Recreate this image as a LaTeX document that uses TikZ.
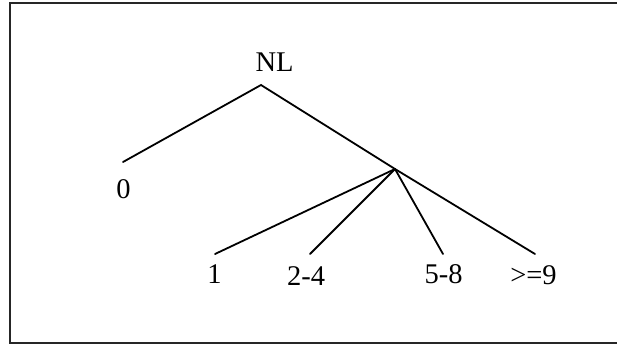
\documentclass[tikz,border=0pt]{standalone}
\usepackage{fontspec}
\setmainfont{Liberation Serif}
\begin{document}
\begin{tikzpicture}[x=1pt,y=-1pt,
  lbl/.style={anchor=base,inner sep=0pt,font=\fontsize{28.5}{30}\selectfont},
  branch/.style={line width=1.8pt,line cap=round,line join=miter},
  frame/.style={line width=2.2pt,draw=black!85}]
\useasboundingbox (0,0) rectangle (617,345);
\clip (0,0) rectangle (617,345);
\draw[frame] (10,3) rectangle (640,343);
% labels
\node[lbl] (nl) at (274.5,71) {NL};
\node[lbl] (n0) at (123.5,198) {0};
\node[lbl] (n1) at (214.5,283) {1};
\node[lbl] (n24) at (306,285.5) {2-4};
\node[lbl] (n58) at (443.5,283.5) {5-8};
\node[lbl] (n9) at (533.5,284.5) {>=9};
% branch points
\coordinate (apex) at (261,85);
\coordinate (junc) at (395,169);
\coordinate (e0) at (123,162);
\coordinate (e1) at (215,254);
\coordinate (e24) at (310,254);
\coordinate (e58) at (443,254);
\coordinate (e9) at (535,254);
\draw[branch] (e0) -- (apex) -- (junc) -- (e9);
\draw[branch] (junc) -- (e1);
\draw[branch] (junc) -- (e24);
\draw[branch] (junc) -- (e58);
\end{tikzpicture}
\end{document}
